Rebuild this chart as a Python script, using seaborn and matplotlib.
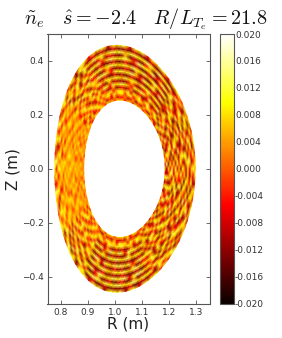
import numpy as np
import seaborn as sns
import matplotlib
matplotlib.use("Agg")
import matplotlib.pyplot as plt

# fluctuation amplitude in units of 0.95e-3
# rings go from the inner edge (ring_00) to the outer edge (ring_17)
# each ring starts on the outboard midplane and goes counter clockwise,
# one line per quarter turn
ring_00 = [5,-9,12,-6,8,-13,10,-3,11,-11,6,-7,9,-2,11,6,-5,10,3,12,-4,8,7,-6,9,
           6,10,-3,8,4,11,-5,7,9,-6,5,12,1,-8,10,3,4,7,1,9,2,5,-3,6,3,
           5,2,8,-2,6,3,9,1,4,10,-6,7,11,-4,8,3,-7,9,12,-3,11,7,10,-2,9,
           8,11,4,10,-4,9,12,3,-6,11,-8,7,-10,13,-7,5,-12,9,-4,14,-10,7,-13,10,-6]
ring_01 = [-11,14,-4,9,-14,5,-8,13,-12,3,10,-9,-8,6,-11,-4,7,-10,-2,-12,5,-7,-9,3,-6,
           -5,-9,4,-8,-2,-10,6,-3,7,11,-5,-9,8,2,-6,10,1,5,8,-2,6,3,9,1,4,
           2,7,-1,5,9,2,-3,6,3,-7,10,4,-8,9,-5,11,2,-8,-11,5,-9,-4,-10,4,-7,
           -9,-5,-11,6,-8,-3,-10,-6,12,-9,4,-11,8,-5,12,-13,8,-6,13,-3,-11,9,-4,14,-12]
ring_02 = [9,-13,6,12,-5,-10,14,-7,4,13,-14,8,10,-3,9,12,-5,7,11,4,-6,12,8,-4,10,
           9,3,12,-6,10,7,-4,11,-7,8,12,-4,6,-9,11,5,3,8,-1,6,2,7,4,-2,8,
           3,6,1,8,-2,5,7,2,6,8,-7,11,3,-6,12,7,-3,11,6,-4,12,9,3,10,-5,
           12,7,9,-6,11,4,10,8,-9,7,13,-6,-12,10,-14,7,3,-11,12,-8,5,13,-13,6,-4]
ring_03 = [-7,11,-12,4,13,-8,2,-13,12,-5,9,-12,12,7,-4,13,9,-6,12,6,10,-7,13,4,9,
           11,7,-5,12,8,4,11,-3,9,-8,4,13,-5,10,2,-7,6,1,7,4,-3,8,2,6,3,
           7,2,5,-1,8,4,1,6,3,-5,9,12,-7,5,10,-4,8,4,12,7,-5,11,13,6,12,
           9,13,5,11,8,-6,12,6,7,-11,4,9,-8,13,4,-12,9,-5,-9,14,-6,10,-12,3,11]
ring_04 = [13,-6,3,-14,9,11,-12,6,-9,14,-3,7,-12,-7,-13,3,-10,-14,-5,-11,-13,4,-9,-12,-6,
           -10,-13,4,-9,-12,-3,-8,6,10,-4,-10,7,11,-3,8,-8,2,7,4,-2,9,3,5,1,6,
           4,8,2,6,-3,7,3,9,1,7,12,-8,3,10,-9,6,11,-10,-13,-6,-12,3,-9,-14,-8,
           -13,-7,-14,-10,4,-12,-9,-13,8,10,-11,-6,12,-8,11,5,-13,10,-4,8,-14,11,3,-10,13]
ring_05 = [-4,9,-13,12,-7,-11,6,13,-14,8,5,-11,14,9,6,13,-4,11,14,8,12,-6,5,10,14,
           12,8,13,-5,11,14,3,10,-6,12,6,-11,2,9,-7,11,5,-2,8,3,6,1,9,-3,4,
           8,3,-2,7,5,2,9,4,-1,11,-6,5,9,-10,7,12,-4,13,8,14,-6,7,15,12,6,
           14,12,-5,15,11,13,6,12,5,-13,9,13,-7,12,-10,-6,11,13,-12,4,9,-13,7,12,-8]
ring_06 = [12,-10,7,-5,14,3,-13,-6,11,-8,13,4,-11,-14,-8,-12,7,-6,-10,-14,-9,6,-7,-13,-11,
           -13,-9,-12,6,-14,-10,-7,-11,12,-9,8,3,-8,13,6,-5,8,4,-1,7,3,9,2,5,7,
           2,6,9,3,7,-2,5,8,4,-3,8,13,-7,11,4,-8,12,-13,-10,-14,5,-12,-14,-9,-13,
           -10,-14,-12,7,-13,-9,-14,-11,8,-9,13,2,-12,8,13,-11,3,-7,14,-5,-12,8,12,-9,5]
ring_07 = [-9,13,4,-12,8,10,-14,12,-3,-10,6,-13,7,12,11,5,14,10,13,4,12,11,8,14,6,
           10,13,7,12,11,3,13,9,-4,11,13,-7,9,2,10,-6,3,8,5,2,9,-2,6,4,8,
           6,1,7,4,9,3,-1,8,5,10,-7,9,3,12,-6,7,11,7,13,9,12,5,13,11,14,
           12,8,13,14,6,12,10,7,-10,6,-7,11,9,-13,10,7,-12,14,-4,-10,8,13,-14,2,11]
ring_08 = [7,-3,-12,13,-9,5,9,-13,10,11,-12,-5,-13,-10,-14,-8,-12,-15,-9,-13,-14,-7,-12,-15,-10,
           -14,-9,-13,-15,-7,-12,-10,4,7,-12,3,10,-9,12,-4,6,1,5,9,3,-2,7,4,8,2,
           9,4,2,8,-3,6,9,1,5,-8,4,11,-9,6,10,-6,3,-14,-12,-8,-15,-13,-10,-15,-9,
           -15,-11,-14,-9,-15,-13,-8,-14,4,-12,10,-8,-13,9,-6,12,10,-13,6,11,-9,-12,10,-6,-3]
ring_09 = [-12,10,8,-6,-13,12,-8,3,-14,7,13,-9,8,15,-4,13,9,12,14,-6,6,15,13,9,14,
           9,13,-5,6,14,12,15,7,12,5,-11,8,13,-8,3,11,7,2,-3,8,4,1,7,10,3,
           4,8,2,6,1,9,3,-2,7,6,13,-7,2,12,-10,9,5,9,15,13,-6,14,11,7,15,
           12,15,8,13,-5,7,15,11,11,13,-9,5,10,-8,13,-12,-3,9,-14,8,4,-11,13,-7,12]
ring_10 = [11,-7,13,3,-11,-9,14,5,-12,11,-4,10,-13,-9,-14,6,-12,-15,-10,-13,5,-14,-11,-8,-13,
           -12,-14,-7,5,-9,-15,-11,-6,-8,13,9,-5,-11,12,6,-9,9,3,6,-2,10,5,2,7,4,
           7,3,8,5,-2,9,4,6,2,11,-8,6,13,-5,-12,8,13,-14,-9,6,-15,-8,-12,-14,-7,
           -13,-9,-15,-12,5,-14,-11,-6,-9,4,-12,13,-5,11,5,-13,12,-6,10,-10,12,7,-13,9,-4]
ring_11 = [3,-12,10,-9,13,7,-10,-14,13,-6,12,-13,10,13,8,14,11,5,14,9,12,15,7,13,10,
           8,12,14,10,5,13,9,12,13,-11,-3,12,8,-12,11,2,-3,7,10,4,1,8,6,-2,9,
           2,9,5,-1,8,6,3,10,4,-9,12,3,-11,9,13,-7,2,11,14,7,12,15,10,6,13,
           9,14,12,6,13,15,8,12,6,12,-11,8,-13,-7,14,-9,2,-13,11,6,-12,3,12,-14,8]
ring_12 = [-10,6,12,-13,4,-8,12,9,-5,-13,8,5,-14,-11,-7,-15,-12,-9,-14,-15,-8,-12,-14,-6,-13,
           -15,-8,-11,-14,-13,-6,-15,-9,-7,10,13,-9,4,11,-12,7,5,-3,8,2,6,-6,9,3,7,
           8,-2,4,9,3,7,-4,5,10,7,-11,12,4,-9,8,11,-13,-15,-9,-14,-12,-6,-15,-13,-10,
           -14,-7,-12,-15,-13,-9,-16,-11,-6,12,9,-13,11,10,-14,7,-8,13,-3,-12,14,-7,5,11,-10]
ring_13 = [9,12,-11,7,-9,13,-13,4,11,-7,-12,13,7,14,12,-5,15,8,11,13,15,-4,7,14,12,
           8,13,15,7,-6,14,9,13,11,-8,7,-13,12,3,-9,13,2,9,-5,7,3,10,1,-6,8,
           5,9,2,-5,8,3,10,-3,6,-6,13,-9,7,12,-12,3,9,8,14,-5,15,13,7,12,15,
           11,15,14,-6,12,16,13,7,10,-8,-13,12,4,-11,8,13,-6,-14,12,9,-9,11,-13,6,7]
ring_14 = [-6,13,5,-8,13,-5,10,-12,13,6,-9,12,-11,-14,-7,-13,-15,5,-6,-14,-12,-9,-15,6,-13,
           -14,-10,-7,-13,6,-8,-12,-11,-12,9,-10,6,13,-7,12,-11,9,4,-2,10,5,-4,7,11,2,
           10,3,7,-6,9,2,8,11,-3,12,-12,7,-9,13,5,-11,12,-13,-15,-8,6,-14,-13,-7,-15,
           -12,-6,-14,-13,5,-15,-10,-13,-7,13,6,-10,-12,12,-6,10,13,-4,-12,7,13,-12,9,-5,-11]
ring_15 = [8,-11,-6,12,7,-12,8,11,-10,-4,13,-7,13,8,12,15,6,13,14,9,11,14,12,6,14,
           11,14,12,5,13,10,14,7,8,13,-13,11,-8,10,6,13,-4,8,11,-5,6,12,-7,9,4,
           12,-5,6,10,-8,7,11,2,9,13,5,-12,13,-9,10,13,-7,9,12,15,13,6,14,11,12,
           14,13,8,12,15,7,13,10,12,-9,10,13,6,-9,11,-12,6,10,-11,13,-5,8,-13,12,3]
ring_16 = [12,-4,11,-13,-8,10,-13,6,-12,9,-5,-13,-12,-15,-9,-13,-14,-7,-15,-12,-13,-8,-15,-11,-13,
           -13,-8,-15,-12,-9,-14,-6,-12,-11,6,12,-14,3,-12,9,-10,10,-8,4,12,-6,9,-10,2,13,
           -7,11,-4,13,2,-9,12,-3,8,-12,10,13,-13,8,-14,4,11,-14,-12,-7,-16,-13,-9,-15,-12,
           -15,-12,-14,-6,-16,-13,-9,-14,-8,-14,12,-6,9,12,-13,4,-12,9,13,-8,-13,10,6,-11,-7]
ring_17 = [6,9,-6,8,12,-7,10,3,13,-5,11,8,13,-4,11,14,6,12,-6,14,9,13,-8,12,14,
           7,13,-9,12,14,6,13,-5,12,14,5,-10,13,9,-6,12,13,6,-9,14,3,12,7,-8,13,
           12,4,-7,13,8,14,-5,11,13,6,-8,14,10,12,-11,13,9,14,-8,13,6,14,-12,11,13,
           8,14,-10,12,13,-7,14,6,13,10,-6,12,-9,13,7,-8,11,3,-10,12,8,-6,11,-8,13]
rings = [ring_00, ring_01, ring_02, ring_03, ring_04, ring_05, ring_06, ring_07, ring_08,
         ring_09, ring_10, ring_11, ring_12, ring_13, ring_14, ring_15, ring_16, ring_17]

# flux surface shape at the two edges (R0, a, kappa*a, triangularity)
inner_edge = [1.035, 0.151, 0.255, 0.113]
outer_edge = [1.037, 0.260, 0.458, 0.115]

colorbar_ticks = [-0.020, -0.016, -0.012, -0.008, -0.004, 0.000,
                  0.004, 0.008, 0.012, 0.016, 0.020]
r_ticks = [0.8, 0.9, 1.0, 1.1, 1.2, 1.3]
z_ticks = [-0.4, -0.2, 0.0, 0.2, 0.4]

sns.set_theme(style="ticks", rc={"mathtext.fontset": "cm"})
plt.rcParams["font.family"] = ["DejaVu Sans"]
hot = sns.color_palette("hot", as_cmap=True)

field = np.array(rings) * 0.95e-3
field = np.hstack([field, field[:, :1]])
theta = np.linspace(0, 2 * np.pi, field.shape[1])
s = np.linspace(0, 1, field.shape[0])[:, None]


def edge(shape):
    r0, a, b, d = shape
    return r0 + a * np.cos(theta + d * np.sin(theta)), b * np.sin(theta)


r_in, z_in = edge(inner_edge)
r_out, z_out = edge(outer_edge)
R = r_in + s * (r_out - r_in)
Z = z_in + s * (z_out - z_in)

fig = plt.figure(figsize=(2.82, 3.38), dpi=100)
ax = fig.add_axes([47.5 / 282, 34.5 / 338, 162 / 282, 269.5 / 338])
cax = fig.add_axes([220 / 282, 34.5 / 338, 13.5 / 282, 269.5 / 338])

mesh = ax.pcolormesh(R, Z, field, cmap=hot, vmin=-0.02, vmax=0.02, shading="gouraud")
ax.set_xlim(0.75, 1.35)
ax.set_ylim(-0.5, 0.5)
ax.set_xticks(r_ticks)
ax.set_yticks(z_ticks)
ax.tick_params(direction="in", top=True, right=True, length=3, width=0.6,
               color="#555555", labelsize=6.5, labelcolor="#333333", pad=3)
for sp in ax.spines.values():
    sp.set_linewidth(0.8)
    sp.set_color("#555555")
ax.set_xlabel("R (m)", fontsize=11, labelpad=0, color="#222222")
ax.set_ylabel("Z (m)", fontsize=11, labelpad=1, color="#222222")
fig.text(0.515, 0.945, r"$\tilde{n}_e\ \ \ \hat{s}=-2.4\ \ \ R/L_{T_e}=21.8$",
         ha="center", va="center", fontsize=14.5, color="#111111")

cb = fig.colorbar(mesh, cax=cax, ticks=colorbar_ticks)
cb.ax.set_yticklabels(["%.3f" % t for t in colorbar_ticks])
cb.ax.tick_params(direction="in", length=2, width=0.5, color="#555555",
                  labelsize=6.5, labelcolor="#333333", pad=1)
cb.outline.set_edgecolor("#555555")
cb.outline.set_linewidth(0.8)

fig.savefig("out.png", dpi=100)
